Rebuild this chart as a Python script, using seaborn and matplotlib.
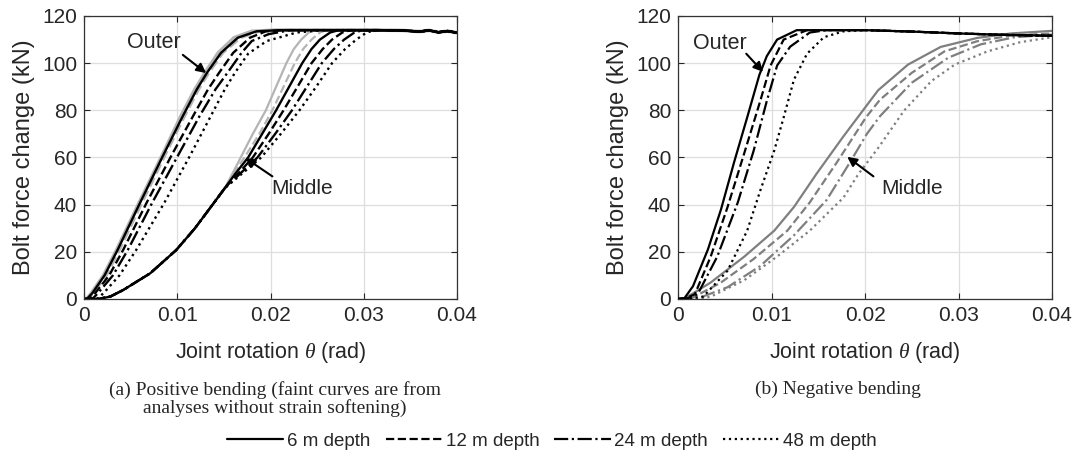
import numpy as np
import pandas as pd
import matplotlib
matplotlib.use("Agg")
import matplotlib.pyplot as plt
import seaborn as sns

# ---------------- data ----------------
depth_labels = ["6 m depth", "12 m depth", "24 m depth", "48 m depth"]
xticks = [0, 0.01, 0.02, 0.03, 0.04]
xtick_labels = ["0", "0.01", "0.02", "0.03", "0.04"]
yticks = [0, 20, 40, 60, 80, 100, 120]

# (a) positive bending - outer bolt
pos_outer_6_x = [0, 0.0003, 0.0009, 0.0022, 0.0036, 0.0060, 0.0085, 0.0106, 0.0121, 0.0132, 0.0147, 0.0165, 0.0185, 0.0210]
pos_outer_6_y = [0, 0, 2.5, 10, 20.8, 40.7, 61, 77.6, 88.9, 96, 104.4, 110.8, 113.5, 114]
pos_outer_12_x = [0, 0.0006, 0.0012, 0.0027, 0.0042, 0.0067, 0.0094, 0.0117, 0.0133, 0.0145, 0.0160, 0.0178, 0.0195, 0.0215]
pos_outer_12_y = [0, 0, 2.5, 10, 20.8, 40.7, 61, 77.6, 88.9, 96, 104.4, 110.8, 113.5, 114]
pos_outer_24_x = [0, 0.0009, 0.0015, 0.0031, 0.0047, 0.0073, 0.0101, 0.0124, 0.0141, 0.0154, 0.0169, 0.0180, 0.0198, 0.0221]
pos_outer_24_y = [0, 0, 2.5, 10, 20.8, 40.7, 61, 77.6, 88.9, 96, 104.4, 109.4, 112.3, 114]
pos_outer_48_x = [0, 0.0014, 0.0021, 0.0038, 0.0056, 0.0086, 0.0114, 0.0136, 0.0151, 0.0162, 0.0176, 0.0196, 0.0228, 0.0256]
pos_outer_48_y = [0, 0, 2.5, 10, 20.8, 40.7, 61, 77.6, 88.9, 96, 104, 109.4, 113, 114]
# faint (no strain softening) outer curves
pos_outer_faint_solid_x = [0, 0.0003, 0.0008, 0.0021, 0.0035, 0.0059, 0.0084, 0.0104, 0.0119, 0.0130, 0.0144, 0.0161, 0.0180, 0.0205]
pos_outer_faint_solid_y = [0, 0, 2.5, 10, 20.8, 40.7, 61, 77.6, 88.9, 96, 104.4, 110.8, 113.5, 114]
pos_outer_faint_dash_x = [0, 0.0004, 0.0010, 0.0024, 0.0038, 0.0062, 0.0087, 0.0108, 0.0123, 0.0134, 0.0149, 0.0168, 0.0188, 0.0212]
pos_outer_faint_dash_y = [0, 0, 2.5, 10, 20.8, 40.7, 61, 77.6, 88.9, 96, 104.4, 110.8, 113.5, 114]

# (a) positive bending - middle bolt
pos_mid_6_x = [0, 0.0015, 0.0028, 0.0042, 0.0071, 0.0099, 0.0119, 0.0139, 0.0151, 0.0162, 0.0176, 0.0191, 0.0206, 0.0220, 0.0234, 0.0244, 0.0253, 0.0264, 0.0273]
pos_mid_6_y = [0, 0, 1, 3.8, 10.9, 20.8, 30, 40.6, 47, 53, 60, 70, 80, 90, 100, 106, 110, 113, 114]
pos_mid_12_x = [0, 0.0015, 0.0028, 0.0042, 0.0071, 0.0099, 0.0119, 0.0139, 0.0151, 0.0165, 0.0181, 0.0198, 0.0214, 0.0229, 0.0244, 0.0256, 0.0266, 0.0277, 0.0286]
pos_mid_12_y = [0, 0, 1, 3.8, 10.9, 20.8, 30, 40.6, 47, 53, 60, 70, 80, 90, 100, 106, 110, 113, 114]
pos_mid_24_x = [0, 0.0015, 0.0028, 0.0042, 0.0071, 0.0099, 0.0119, 0.0139, 0.0151, 0.0167, 0.0186, 0.0205, 0.0223, 0.0239, 0.0255, 0.0268, 0.0279, 0.0290, 0.0299]
pos_mid_24_y = [0, 0, 1, 3.8, 10.9, 20.8, 30, 40.6, 47, 53, 60, 70, 80, 90, 100, 106, 110, 113, 114]
pos_mid_48_x = [0, 0.0015, 0.0028, 0.0042, 0.0071, 0.0099, 0.0119, 0.0139, 0.0151, 0.0169, 0.0190, 0.0211, 0.0231, 0.0249, 0.0266, 0.0280, 0.0292, 0.0303, 0.0312]
pos_mid_48_y = [0, 0, 1, 3.8, 10.9, 20.8, 30, 40.6, 47, 53, 60, 70, 80, 90, 100, 106, 110, 113, 114]
pos_mid_faint_solid_x = [0.0139, 0.0151, 0.0159, 0.0168, 0.0181, 0.0195, 0.0206, 0.0217, 0.0225, 0.0233, 0.0241, 0.0248]
pos_mid_faint_solid_y = [40.6, 47, 53, 60, 70, 80, 90, 100, 106, 110, 113, 114]
pos_mid_faint_dash_x = [0.0139, 0.0151, 0.0160, 0.0172, 0.0188, 0.0202, 0.0214, 0.0226, 0.0235, 0.0244, 0.0253, 0.0260]
pos_mid_faint_dash_y = [40.6, 47, 53, 60, 70, 80, 90, 100, 106, 110, 113, 114]
# common plateau (with the small jitter at the end)
pos_tail_x = [0.0315, 0.034, 0.036, 0.037, 0.038, 0.039, 0.040]
pos_tail_y = [114, 113.9, 113.4, 113.9, 113.1, 113.6, 112.9]

# (b) negative bending - outer bolt
neg_outer_6_x = [0, 0.0007, 0.0016, 0.0032, 0.0046, 0.0060, 0.0074, 0.0087, 0.0095, 0.0106, 0.0127, 0.0200]
neg_outer_6_y = [0, 0.4, 5.4, 21, 38, 58, 77, 95, 103, 110, 114, 114]
neg_outer_12_x = [0, 0.0008, 0.0018, 0.0035, 0.0053, 0.0071, 0.0088, 0.0099, 0.0113, 0.0138, 0.0200]
neg_outer_12_y = [0, 0.3, 2, 18, 39, 62, 84, 99, 110, 114, 114]
neg_outer_24_x = [0, 0.0010, 0.0021, 0.0042, 0.0064, 0.0081, 0.0095, 0.0106, 0.0120, 0.0141, 0.0159, 0.0200]
neg_outer_24_y = [0, 0.3, 2, 18, 41, 63, 84, 99, 107, 113, 114, 114]
neg_outer_48_x = [0, 0.0012, 0.0027, 0.0053, 0.0074, 0.0088, 0.0103, 0.0113, 0.0124, 0.0138, 0.0156, 0.0177, 0.0200]
neg_outer_48_y = [0, 0.2, 1, 12, 29, 46, 63, 77, 93, 104, 111, 113.5, 114]
neg_tail_x = [0.025, 0.030, 0.035, 0.040]
neg_tail_y = [113.4, 112.6, 112.0, 111.6]

# (b) negative bending - middle bolt
neg_mid_6_x = [0, 0.0007, 0.0035, 0.0071, 0.0103, 0.0124, 0.0148, 0.0177, 0.0214, 0.0246, 0.0281, 0.0320, 0.0356, 0.0400]
neg_mid_6_y = [0, 0.2, 7, 18, 29, 39, 53, 69, 88.5, 99.4, 106.9, 110.7, 112.6, 113.7]
neg_mid_12_x = [0, 0.0014, 0.0046, 0.0081, 0.0117, 0.0141, 0.0170, 0.0201, 0.0216, 0.0250, 0.0285, 0.0320, 0.0356, 0.0400]
neg_mid_12_y = [0, 0.2, 7, 17, 29, 41, 58, 77, 84.5, 95.9, 105, 109.3, 111.7, 112.6]
neg_mid_24_x = [0, 0.0021, 0.0053, 0.0088, 0.0124, 0.0159, 0.0184, 0.0202, 0.0216, 0.0250, 0.0289, 0.0324, 0.0360, 0.0400]
neg_mid_24_y = [0, 0.2, 5, 14, 27, 42, 58, 70, 77.5, 91.7, 102.3, 108, 111, 112.1]
neg_mid_48_x = [0, 0.0025, 0.0035, 0.0071, 0.0106, 0.0141, 0.0177, 0.0193, 0.0214, 0.0242, 0.0271, 0.0296, 0.0331, 0.0366, 0.0400]
neg_mid_48_y = [0, 0.2, 1, 8, 18, 29, 43, 53, 64, 80, 92.4, 99.4, 105, 108.9, 111]

# ---------------- style ----------------
sns.set_style("ticks")
plt.rcParams["font.family"] = ["Liberation Sans", "DejaVu Sans"]
plt.rcParams["mathtext.fontset"] = "custom"
plt.rcParams["mathtext.it"] = "Liberation Serif:italic"
plt.rcParams["mathtext.rm"] = "Liberation Sans"

BLACK = "#000000"
FAINT = "#b4b4b4"
GREY = "#7f7f7f"
styles = ["-", "--", "-.", ":"]

fig = plt.figure(figsize=(10.75, 4.70), dpi=100)
axA = fig.add_axes([84 / 1075, 1 - 299 / 470, 373 / 1075, 283 / 470])
axB = fig.add_axes([678 / 1075, 1 - 299 / 470, 374 / 1075, 283 / 470])


def curve(ax, xs, ys, color, ls, lw, tail_x=None, tail_y=None, label=None, z=2):
    xs = list(xs)
    ys = list(ys)
    if tail_x is not None:
        for tx, ty in zip(tail_x, tail_y):
            if tx > xs[-1]:
                xs.append(tx)
                ys.append(ty)
    df = pd.DataFrame({"x": xs, "y": ys})
    sns.lineplot(data=df, x="x", y="y", ax=ax, color=color, linestyle=ls,
                 linewidth=lw, sort=False, estimator=None, label=label,
                 zorder=z)


# panel (a)
curve(axA, pos_outer_faint_solid_x, pos_outer_faint_solid_y, FAINT, "-", 2.6, pos_tail_x, pos_tail_y, z=1)
curve(axA, pos_outer_faint_dash_x, pos_outer_faint_dash_y, FAINT, "--", 2.0, pos_tail_x, pos_tail_y, z=1)
curve(axA, pos_mid_faint_solid_x, pos_mid_faint_solid_y, FAINT, "-", 1.6, pos_tail_x, pos_tail_y, z=1)
curve(axA, pos_mid_faint_dash_x, pos_mid_faint_dash_y, FAINT, "--", 1.6, pos_tail_x, pos_tail_y, z=1)
pos_outer = [(pos_outer_6_x, pos_outer_6_y), (pos_outer_12_x, pos_outer_12_y),
             (pos_outer_24_x, pos_outer_24_y), (pos_outer_48_x, pos_outer_48_y)]
pos_mid = [(pos_mid_6_x, pos_mid_6_y), (pos_mid_12_x, pos_mid_12_y),
           (pos_mid_24_x, pos_mid_24_y), (pos_mid_48_x, pos_mid_48_y)]
for (xs, ys), ls in zip(pos_outer, styles):
    curve(axA, xs, ys, BLACK, ls, 1.7, pos_tail_x, pos_tail_y)
for (xs, ys), ls in zip(pos_mid, styles):
    curve(axA, xs, ys, BLACK, ls, 1.7, pos_tail_x, pos_tail_y)

# panel (b)
neg_outer = [(neg_outer_6_x, neg_outer_6_y), (neg_outer_12_x, neg_outer_12_y),
             (neg_outer_24_x, neg_outer_24_y), (neg_outer_48_x, neg_outer_48_y)]
neg_mid = [(neg_mid_6_x, neg_mid_6_y), (neg_mid_12_x, neg_mid_12_y),
           (neg_mid_24_x, neg_mid_24_y), (neg_mid_48_x, neg_mid_48_y)]
for (xs, ys), ls in zip(neg_mid, styles):
    curve(axB, xs, ys, GREY, ls, 1.6)
for (xs, ys), ls, lab in zip(neg_outer, styles, depth_labels):
    curve(axB, xs, ys, BLACK, ls, 1.6, neg_tail_x, neg_tail_y, label=lab, z=3)

handles, labels = axB.get_legend_handles_labels()
axB.get_legend().remove()

for ax in (axA, axB):
    ax.set_xlim(0, 0.04)
    ax.set_ylim(0, 120)
    ax.set_xticks(xticks)
    ax.set_xticklabels(xtick_labels)
    ax.set_yticks(yticks)
    ax.grid(True, color="#dedede", linewidth=0.9)
    ax.set_axisbelow(True)
    for s in ax.spines.values():
        s.set_visible(True)
        s.set_color("#333333")
        s.set_linewidth(0.9)
    ax.tick_params(direction="in", length=4, width=0.8, top=True, right=True,
                   labelsize=15, colors="#262626", labelcolor="#262626", pad=5)
    ax.set_xlabel(r"Joint rotation $\theta$ (rad)", fontsize=15.5, color="#262626", labelpad=11)
    ax.set_ylabel("Bolt force change (kN)", fontsize=17, color="#262626", labelpad=5)

arrow = dict(arrowstyle="-|>", color="black", lw=1.5, mutation_scale=14, shrinkA=0, shrinkB=0)
axA.annotate("", xy=(0.0131, 95.8), xytext=(0.0106, 103.5), arrowprops=arrow)
axA.text(0.0075, 108.6, "Outer", fontsize=15.5, ha="center", va="center")
axA.annotate("", xy=(0.0173, 59.8), xytext=(0.0202, 52.0), arrowprops=arrow)
axA.text(0.0234, 47, "Middle", fontsize=15, ha="center", va="center")

axB.annotate("", xy=(0.0091, 96.3), xytext=(0.0073, 104), arrowprops=arrow)
axB.text(0.0045, 108.3, "Outer", fontsize=15.5, ha="center", va="center")
axB.annotate("", xy=(0.0181, 60.3), xytext=(0.0209, 52.0), arrowprops=arrow)
axB.text(0.0250, 46.9, "Middle", fontsize=15, ha="center", va="center")

fig.text(275 / 1075, 1 - 399 / 470,
         "(a) Positive bending (faint curves are from\nanalyses without strain softening)",
         ha="center", va="center", fontsize=14, family="Liberation Serif",
         linespacing=1.05, multialignment="center")
fig.text(838 / 1075, 1 - 389 / 470, "(b) Negative bending", ha="center", va="center",
         fontsize=14, family="Liberation Serif")

fig.legend(handles, labels, loc="center", bbox_to_anchor=(552 / 1075, 1 - 441 / 470),
           ncol=4, frameon=False, fontsize=13.5, handlelength=3.0, handletextpad=0.2,
           columnspacing=0.8)

fig.savefig("out.png", dpi=100)
